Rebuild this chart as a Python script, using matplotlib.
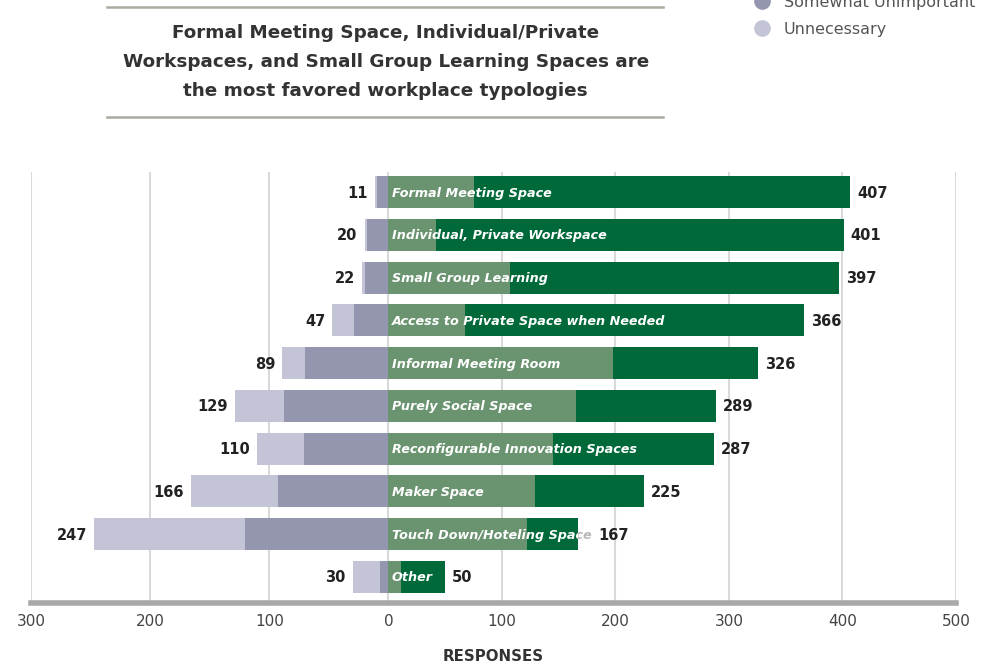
import numpy as np
import matplotlib.pyplot as plt
from matplotlib.lines import Line2D
from matplotlib.patches import Rectangle

plt.rcParams['font.family'] = ['DejaVu Sans']

spaces = ['Formal Meeting Space', 'Individual, Private Workspace', 'Small Group Learning',
          'Access to Private Space when Needed', 'Informal Meeting Room', 'Purely Social Space',
          'Reconfigurable Innovation Spaces', 'Maker Space', 'Touch Down/Hoteling Space', 'Other']
somewhat_important = np.array([75, 42, 107, 67, 198, 165, 145, 129, 122, 11])
very_important = np.array([332, 359, 290, 299, 128, 124, 142, 96, 45, 39])
somewhat_unimportant = np.array([10, 18, 20, 29, 70, 88, 71, 93, 120, 7])
unnecessary = np.array([1, 2, 2, 18, 19, 41, 39, 73, 127, 23])

important_total = somewhat_important + very_important
unimportant_total = somewhat_unimportant + unnecessary

c_very = '#00693a'
c_some = '#6a9370'
c_sunimp = '#9496b0'
c_unnec = '#c3c5d6'

fig = plt.figure(figsize=(9.84, 6.67), dpi=100)
ax = fig.add_axes([0.0315, 0.096, 0.94, 0.646])

# negative side is drawn a little wider than the positive side
k = 1.05
ax.set_xscale('function', functions=(lambda x: np.where(x < 0, x * k, x),
                                     lambda x: np.where(x < 0, x / k, x)))
ax.set_xlim(-300, 500)
ax.set_ylim(9.61, -0.47)

y = np.arange(len(spaces))
h = 0.75
ax.barh(y, somewhat_important, height=h, color=c_some, zorder=2)
ax.barh(y, very_important, left=somewhat_important, height=h, color=c_very, zorder=2)
ax.barh(y, -somewhat_unimportant, height=h, color=c_sunimp, zorder=2)
ax.barh(y, -unnecessary, left=-somewhat_unimportant, height=h, color=c_unnec, zorder=2)

renderer = fig.canvas.get_renderer()
for i, name in enumerate(spaces):
    lab = ax.text(3, i + 0.02, name, color='white', fontsize=9.2, style='oblique',
                  fontweight='bold', va='center', ha='left', zorder=3)
    # part of a label running past the end of its bar shows in grey
    t = ax.text(3, i + 0.02, name, color='#b8b8b8', fontsize=9.2, style='oblique',
                fontweight='bold', va='center', ha='left', zorder=4, clip_on=True)
    t.set_clip_path(Rectangle((important_total[i], i - 0.5), 600, 1, transform=ax.transData))

    # value sits after the bar, or after the name if that runs longer
    text_end = ax.transData.inverted().transform(lab.get_window_extent(renderer).p1)[0]
    x_val = max(important_total[i], text_end) + 6
    ax.text(x_val, i + 0.02, str(important_total[i]), color='#222222',
            fontsize=10.5, fontweight='bold', va='center', ha='left', zorder=3)
    ax.text(-unimportant_total[i] - 6, i + 0.02, str(unimportant_total[i]), color='#222222',
            fontsize=10.5, fontweight='bold', va='center', ha='right', zorder=3)

ticks = np.arange(-300, 501, 100)
ax.set_xticks(ticks)
ax.set_xticklabels([str(abs(t)) for t in ticks], color='#444444', fontsize=11)
ax.set_yticks([])
for t in ticks:
    ax.axvline(t, color='#d9d9d9', linewidth=1.5, zorder=1)
ax.tick_params(axis='x', length=0, pad=8)
for s in ['top', 'right', 'left']:
    ax.spines[s].set_visible(False)
ax.spines['bottom'].set_color('#a8a8a8')
ax.spines['bottom'].set_linewidth(4)
ax.set_xlabel('RESPONSES', fontsize=10.8, fontweight='bold', color='#333333', labelpad=14)

# heading with rules above and below
fig.text(0.392, 0.907, 'Formal Meeting Space, Individual/Private\n'
         'Workspaces, and Small Group Learning Spaces are\n'
         'the most favored workplace typologies',
         ha='center', va='center', fontsize=13.2, fontweight='bold', color='#333333',
         linespacing=1.8)
for yy in [1 - 7 / 667, 1 - 117 / 667]:
    fig.add_artist(Line2D([107 / 984, 663 / 984], [yy, yy], color='#a9aba0', linewidth=1.8))

labels = ['Very Important', 'Somewhat Important', 'Somewhat Unimportant', 'Unnecessary']
colors = [c_very, c_some, c_sunimp, c_unnec]
handles = [Line2D([], [], marker='o', linestyle='', markersize=11, color=c) for c in colors]
fig.legend(handles, labels, loc='upper left', bbox_to_anchor=(0.75, 1.112), frameon=False,
           fontsize=11.5, labelcolor='#555555', handletextpad=0.75, labelspacing=0.78,
           handlelength=1.2)

fig.savefig('out.png', dpi=100)
